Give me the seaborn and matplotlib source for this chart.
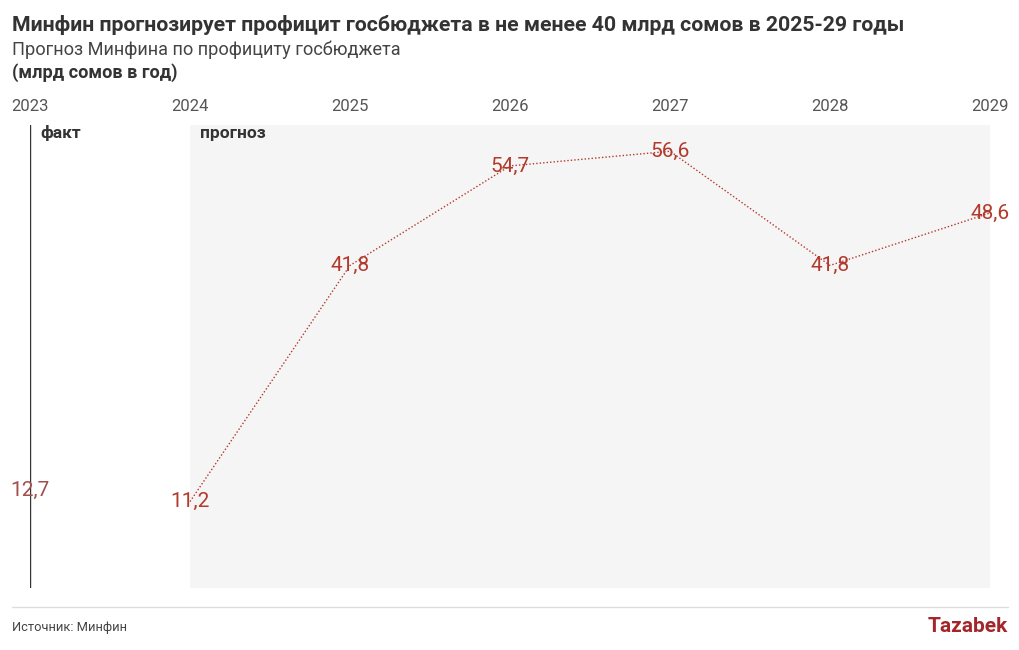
import numpy as np
import pandas as pd
import matplotlib.pyplot as plt
import seaborn as sns

# Data
fact_years = [2023]
fact_values = [12.7]
forecast_years = [2024, 2025, 2026, 2027, 2028, 2029]
forecast_values = [11.2, 41.8, 54.7, 56.6, 41.8, 48.6]
year_ticks = [2023, 2024, 2025, 2026, 2027, 2028, 2029]

sns.set_theme(style = 'white')
plt.rcParams['font.family'] = ['Roboto', 'DejaVu Sans']

red = '#b23a2c'
fig = plt.figure(figsize = (10.2, 6.5), dpi = 100)
ax = fig.add_axes([30 / 1020, 1 - 588 / 650, 960 / 1020, 463 / 650])

# Forecast shaded region and fact divider
ax.axvspan(2024, 2029, color = '#f5f5f5', zorder = 0, lw = 0)
ax.axvline(2023, color = '#333333', lw = 1, zorder = 1)

forecast = pd.DataFrame({'year': forecast_years, 'value': forecast_values})
sns.lineplot(data = forecast, x = 'year', y = 'value', ax = ax, color = red,
             linestyle = (0, (1, 1.5)), lw = 1, zorder = 2)

# Value labels
def fmt(v):
    return f'{v:.1f}'.replace('.', ',')

for x, v in zip(fact_years, fact_values):
    ax.text(x, v, fmt(v), ha = 'center', va = 'center', fontsize = 15, color = '#a24e4b', zorder = 3)
for x, v in zip(forecast_years, forecast_values):
    ax.text(x, v, fmt(v), ha = 'center', va = 'center', fontsize = 15, color = red, zorder = 3)

ax.text(2023 + 10 / 160, 58.9, 'факт', ha = 'left', va = 'center', fontsize = 12.5, fontweight = 'bold', color = '#333333')
ax.text(2024 + 10 / 160, 58.9, 'прогноз', ha = 'left', va = 'center', fontsize = 12.5, fontweight = 'bold', color = '#333333')

ax.set_xlim(2023, 2029)
ax.set_ylim(0, 60)
ax.xaxis.tick_top()
ax.set_xticks(year_ticks)
ax.set_xticklabels([str(y) for y in year_ticks], fontsize = 12, color = '#555555')
ax.tick_params(axis = 'x', length = 0, pad = 8)
ax.set_yticks([])
ax.set_xlabel('')
ax.set_ylabel('')
for s in ax.spines.values():
    s.set_visible(False)
ax.patch.set_alpha(0)

# Titles
fig.text(12 / 1020, 1 - 25 / 650, 'Минфин прогнозирует профицит госбюджета в не менее 40 млрд сомов в 2025-29 годы',
         ha = 'left', va = 'center', fontsize = 15.3, fontweight = 'bold', color = '#333333')
fig.text(12 / 1020, 1 - 50 / 650, 'Прогноз Минфина по профициту госбюджета',
         ha = 'left', va = 'center', fontsize = 13.1, color = '#444444')
fig.text(12 / 1020, 1 - 73 / 650, '(млрд сомов в год)',
         ha = 'left', va = 'center', fontsize = 13.1, fontweight = 'bold', color = '#333333')

# Footer
fig.add_artist(plt.Line2D([12 / 1020, 1008 / 1020], [1 - 607 / 650, 1 - 607 / 650], color = '#dddddd', lw = 1))
fig.text(12 / 1020, 1 - 627 / 650, 'Источник: Минфин', ha = 'left', va = 'center', fontsize = 9.3, color = '#444444')
fig.text(1008 / 1020, 1 - 627 / 650, 'Tazabek', ha = 'right', va = 'center', fontsize = 15, fontweight = 'bold', color = '#a3262a')

fig.savefig('out.png', dpi = 100)
